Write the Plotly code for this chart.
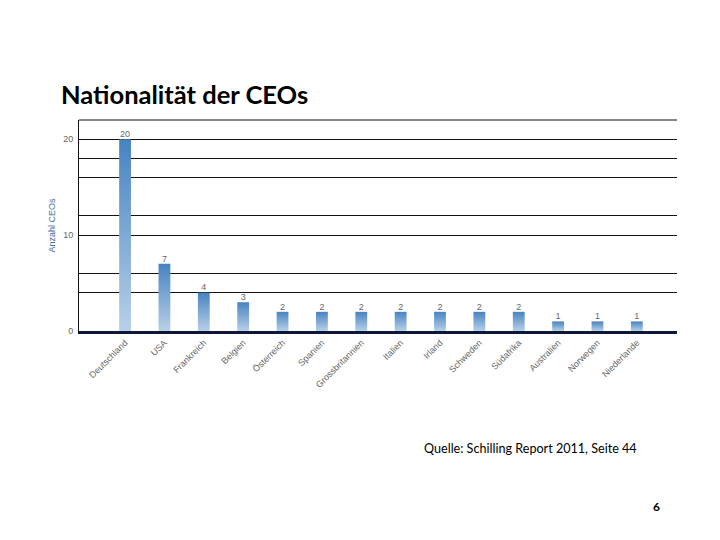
import plotly.graph_objects as go

# ---- data ----
countries = ["Deutschland", "USA", "Frankreich", "Belgien", "Österreich", "Spanien",
             "Grossbritannien", "Italien", "Irland", "Schweden", "Südafrika",
             "Australien", "Norwegen", "Niederlande"]
ceo_counts = [20, 7, 4, 3, 2, 2, 2, 2, 2, 2, 2, 1, 1, 1]
y_tickvals = [0, 4, 6, 10, 12, 16, 18, 20, 22]
y_ticktext = ["0", "", "", "10", "", "", "", "20", ""]
y_top = 22

title_text = "Nationalität der CEOs"
source_text = "Quelle: Schilling Report 2011, Seite 44"
page_no = "6"

bar_w = 0.30
grad = [[0, "#b8d0e8"], [1, "#4783c1"]]

W, H = 720, 540
ML, MR, MT, MB = 79, 43, 120, 209

fig = go.Figure()
for i, v in enumerate(ceo_counts):
    x0, x1 = i - bar_w / 2, i + bar_w / 2
    fig.add_trace(go.Scatter(
        x=[x0, x1, x1, x0, x0], y=[0, 0, v, v, 0],
        fill="toself", mode="lines", line=dict(width=0, color="rgba(0,0,0,0)"),
        fillgradient=dict(type="vertical", colorscale=grad),
        hoverinfo="skip", showlegend=False))

fig.add_trace(go.Scatter(
    x=list(range(len(countries))), y=ceo_counts, mode="text",
    text=[str(v) for v in ceo_counts], textposition="top center",
    textfont=dict(family="Liberation Sans", size=9, color="#666666"),
    showlegend=False, hoverinfo="skip"))

pw, ph = W - ML - MR, H - MT - MB
def px(x):
    return (x - ML) / pw
def py(y):
    return (H - MB - y) / ph

fig.update_layout(
    width=W, height=H,
    margin=dict(l=ML, r=MR, t=MT, b=MB),
    paper_bgcolor="white", plot_bgcolor="white",
    font=dict(family="Liberation Sans", color="#666666"),
    xaxis=dict(
        range=[-1.17, 14.02], tickvals=list(range(len(countries))), ticktext=countries,
        tickangle=-45, tickfont=dict(size=9, color="#666666"),
        showgrid=False, zeroline=False, showline=True, linecolor="#0d1838", linewidth=3,
        ticks="",
    ),
    yaxis=dict(
        range=[0, y_top], tickvals=y_tickvals, ticktext=y_ticktext,
        tickfont=dict(size=9, color="#666666"),
        showgrid=True, gridcolor="#111111", gridwidth=1,
        zeroline=False, showline=True, linecolor="#111111", linewidth=1,
        ticks="", ticklabelstandoff=3,
        title=dict(text="Anzahl CEOs", font=dict(size=9, color="#3d6ba3"), standoff=6),
    ),
    shapes=[
        dict(type="line", xref="paper", yref="paper", x0=0, x1=1, y0=1, y1=1,
             line=dict(color="#111111", width=1), layer="above"),
    ],
    annotations=[
        dict(text=f"<b>{title_text}</b>", x=px(59), y=py(94), xref="paper", yref="paper",
             xanchor="left", yanchor="middle", showarrow=False,
             font=dict(family="Lato", size=25.5, color="#000000")),
        dict(text=source_text, x=px(422), y=py(448), xref="paper", yref="paper",
             xanchor="left", yanchor="middle", showarrow=False,
             font=dict(family="Lato", size=12.6, color="#000000")),
        dict(text=f"<b>{page_no}</b>", x=px(662), y=py(506), xref="paper", yref="paper",
             xanchor="right", yanchor="middle", showarrow=False,
             font=dict(family="Lato", size=12, color="#000000")),
    ],
)

fig.write_html("out.html", config={"displayModeBar": False},
               post_script="document.body.style.margin='0px';document.body.style.overflow='hidden';")
